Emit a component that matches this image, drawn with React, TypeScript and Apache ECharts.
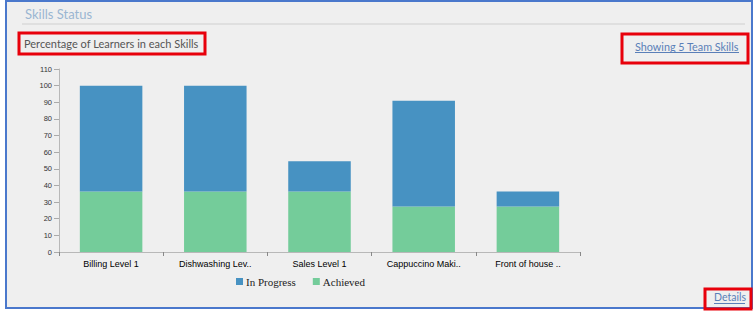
import React, { useEffect, useRef } from "react";
import * as echarts from "echarts";

const categories = ["Billing Level 1", "Dishwashing Lev..", "Sales Level 1", "Cappuccino Maki..", "Front of house .."];
const achieved = [36.4, 36.4, 36.4, 27.3, 27.3];
const inProgress = [63.6, 63.6, 18.2, 63.6, 9.1];
const seriesNames = ["In Progress", "Achieved"];
const yTicks = { min: 0, max: 110, interval: 10 };

const BLUE = "#4792c2";
const GREEN = "#74cc9a";
const FONT = "Lato, 'Open Sans', sans-serif";

export default function App() {
  const ref = useRef<HTMLDivElement>(null);
  useEffect(() => {
    if (!ref.current) return;
    const chart = echarts.init(ref.current, null, { renderer: "svg" });
    chart.setOption({
      animation: false,
      backgroundColor: "#ffffff",
      graphic: [
        { type: "rect", z: -10, shape: { x: 6, y: 1, width: 746, height: 307 }, style: { fill: "#efefef", stroke: "#4a78cc", lineWidth: 2 } },
        { type: "text", x: 25, y: 14, style: { text: "Skills Status", fill: "#9ab6d2", font: `13px ${FONT}`, textVerticalAlign: "middle" } },
        { type: "line", shape: { x1: 22, y1: 24, x2: 745, y2: 24 }, style: { stroke: "#cfcfcf", lineWidth: 1 } },
        { type: "rect", shape: { x: 19, y: 33, width: 186, height: 21 }, style: { fill: "none", stroke: "#e8000b", lineWidth: 3 } },
        { type: "text", x: 24, y: 43.5, style: { text: "Percentage of Learners in each Skills", fill: "#555555", font: `11px ${FONT}`, textVerticalAlign: "middle" } },
        { type: "rect", shape: { x: 622, y: 34, width: 126, height: 29 }, style: { fill: "none", stroke: "#e8000b", lineWidth: 3 } },
        { type: "text", x: 635, y: 46, style: { text: "Showing 5 Team Skills", fill: "#5a7fb8", font: `10.8px ${FONT}`, textVerticalAlign: "middle" } },
        { type: "line", shape: { x1: 635, y1: 52.5, x2: 739, y2: 52.5 }, style: { stroke: "#5a7fb8", lineWidth: 1 } },
        { type: "rect", shape: { x: 705, y: 289, width: 46, height: 20 }, style: { fill: "none", stroke: "#e8000b", lineWidth: 3 } },
        { type: "text", x: 714, y: 297, style: { text: "Details", fill: "#5a7fb8", font: `10.5px ${FONT}`, textVerticalAlign: "middle" } },
        { type: "line", shape: { x1: 714, y1: 303.5, x2: 745, y2: 303.5 }, style: { stroke: "#5a7fb8", lineWidth: 1 } },
      ],
      grid: { left: 59, right: 175, top: 69, bottom: 60, containLabel: false },
      legend: {
        data: seriesNames,
        top: 276,
        left: 236,
        padding: 0,
        itemWidth: 7,
        itemHeight: 7,
        itemGap: 17,
        icon: "rect",
        textStyle: { fontFamily: "'Liberation Serif', 'DejaVu Serif', serif", fontSize: 11, color: "#222", padding: [0, 0, 0, -2] },
      },
      xAxis: {
        type: "category",
        data: categories,
        axisLine: { lineStyle: { color: "#b8b8b8" } },
        axisTick: { show: true, length: 4, lineStyle: { color: "#888" } },
        axisLabel: { fontFamily: "Arial, 'Liberation Sans', sans-serif", fontSize: 9, color: "#000", margin: 7 },
      },
      yAxis: {
        type: "value",
        min: yTicks.min,
        max: yTicks.max,
        interval: yTicks.interval,
        axisLine: { show: true, lineStyle: { color: "#b8b8b8" } },
        axisTick: { show: true, length: 5, lineStyle: { color: "#aaa" } },
        splitLine: { show: false },
        axisLabel: { fontFamily: "Arial, 'Liberation Sans', sans-serif", fontSize: 7.5, color: "#333", margin: 7 },
      },
      series: [
        { name: seriesNames[1], type: "bar", stack: "s", data: achieved, barWidth: "60%", itemStyle: { color: GREEN } },
        { name: seriesNames[0], type: "bar", stack: "s", data: inProgress, barWidth: "60%", itemStyle: { color: BLUE } },
      ],
    });
    return () => chart.dispose();
  }, []);
  return <div ref={ref} style={{ position: "absolute", left: 0, top: 0, width: 755, height: 312 }} />;
}
